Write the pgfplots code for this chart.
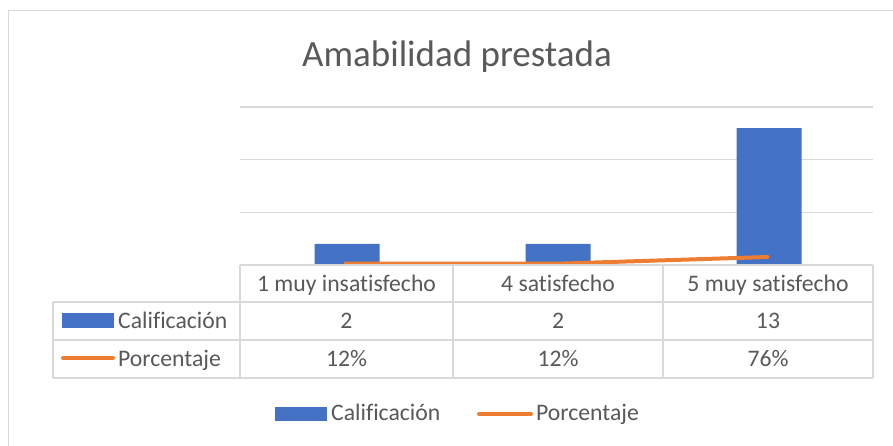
\documentclass[border=0pt]{standalone}
\usepackage{pgfplots}
\pgfplotsset{compat=1.18}
\usepackage{fontspec}
\setmainfont{Carlito}[Ligatures=NoCommon]
\definecolor{xblue}{HTML}{4472C4}
\definecolor{xorange}{HTML}{ED7D31}
\definecolor{xgrid}{HTML}{D9D9D9}
\definecolor{xtext}{HTML}{595959}
\begin{document}
\begin{tikzpicture}[x=1bp,y=1bp]
\useasboundingbox (0,0) rectangle (893,446);
\fill[white] (0,0) rectangle (893,446);
\draw[xgrid, line width=1.5bp] (8.5,0) -- (8.5,435.5) -- (893,435.5);
\begin{axis}[at={(240bp,181bp)}, anchor=south west, scale only axis,
  width=633bp, height=158bp, xmin=-0.5, xmax=2.5, ymin=0, ymax=15,
  axis line style={draw=none}, ytick={5,10,15}, xtick=\empty, yticklabels={},
  major tick length=0pt, ymajorgrids, grid style={xgrid, line width=1.5bp}, clip=false]
\addplot[ybar, bar width=65bp, bar shift=1.5bp, fill=xblue, draw=none] coordinates {(0,2)(1,2)(2,13)};
\addplot[xorange, line width=4bp, line cap=round, line join=round] coordinates {(0,0.12)(1,0.12)(2,0.76)};
\end{axis}
% data table
\begin{scope}[xgrid, line width=1.4bp]
\draw (240,181) -- (873,181);
\draw (53,144) -- (873,144);
\draw (53,106) -- (873,106);
\draw (53,68) -- (873,68);
\draw (240,181) -- (240,68);
\draw (453,181) -- (453,68);
\draw (663,181) -- (663,68);
\draw (873,181) -- (873,68);
\draw (53,144) -- (53,68);
\end{scope}
\tikzset{tt/.style={text=xtext, font=\fontsize{23.7bp}{28bp}\selectfont, inner sep=0pt, text height=15.2bp, text depth=0pt}}
\node[tt] at (346.5,162.5) {1 muy insatisfecho};
\node[tt] at (558,162.5) {4 satisfecho};
\node[tt] at (768,162.5) {5 muy satisfecho};
\node[tt] at (346.5,125) {2};
\node[tt] at (558,125) {2};
\node[tt] at (768,125) {13};
\node[tt] at (346.5,87) {12\%};
\node[tt] at (558,87) {12\%};
\node[tt] at (768,87) {76\%};
\fill[xblue] (62,118) rectangle (114,133);
\node[tt, anchor=west] at (118,125) {Calificación};
\draw[xorange, line width=4bp, line cap=round] (63,88) -- (113,88);
\node[tt, anchor=west] at (118,87) {Porcentaje};
% legend
\fill[xblue] (275,25) rectangle (327,39);
\node[tt, anchor=west] at (331,33) {Calificación};
\draw[xorange, line width=4bp, line cap=round] (479,32) -- (531,32);
\node[tt, anchor=west] at (536,33) {Porcentaje};
% title
\node[text=xtext, font=\fontsize{37bp}{44bp}\selectfont, inner sep=0pt, text height=23.8bp, text depth=0pt] at (457,391) {Amabilidad prestada};
\end{tikzpicture}
\end{document}
